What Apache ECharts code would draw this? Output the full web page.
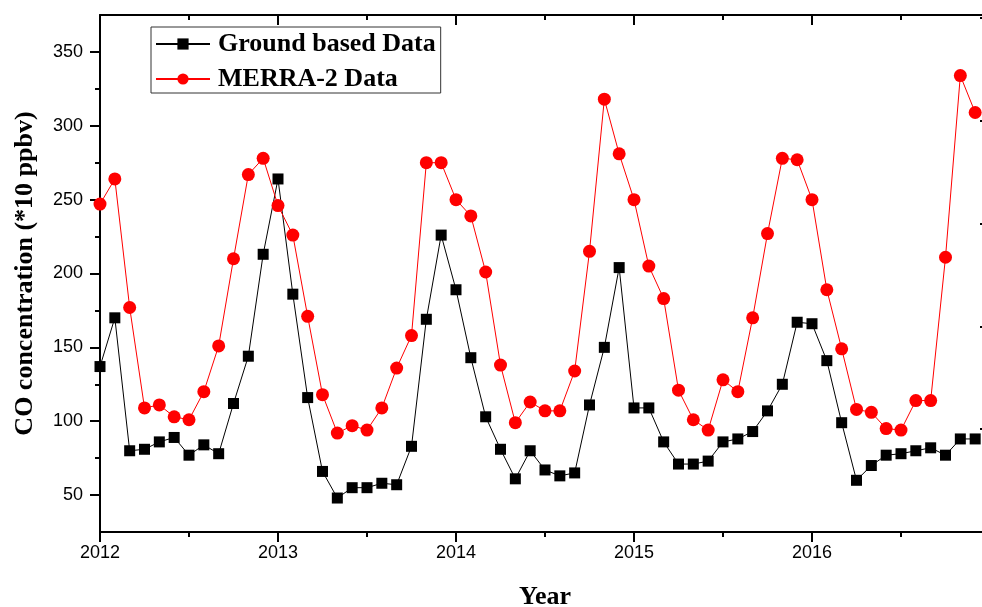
<!DOCTYPE html>
<html>
<head>
<meta charset="utf-8">
<script src="https://cdn.jsdelivr.net/npm/echarts@6/dist/echarts.min.js"></script>
<style>html,body{margin:0;padding:0;background:#fff}#c{width:982px;height:607px}</style>
</head>
<body>
<div id="c"></div>
<script>
// Monthly data, Jan 2012 .. Dec 2016
var startYear = 2012;
var groundData = [137,170,80,81,86,89,77,84,78,112,144,213,
                  264,186,116,66,48,55,55,58,57,83,169,226,
                  189,143,103,81,61,80,67,63,65,111,150,204,
                  109,109,86,71,71,73,86,88,93,107,125,167,
                  166,141,99,60,70,77,78,80,82,77,88,88];
var merraData = [247,264,177,109,111,103,101,120,151,210,267,278,
                 246,226,171,118,92,97,94,109,136,158,275,275,
                 250,239,201,138,99,113,107,107,134,215,318,281,
                 250,205,183,121,101,94,128,120,170,227,278,277,
                 250,189,149,108,106,95,94,114,114,211,334,309];
var yMajorTicks = [50,100,150,200,250,300,350];
var yMinorTicks = [75,125,175,225,275,325];
var seriesNames = ['Ground based Data','MERRA-2 Data'];

function toPairs(arr){ return arr.map(function(v,i){ return [startYear + i/12, v]; }); }

var chart = echarts.init(document.getElementById('c'), null, {renderer:'canvas'});
var axisLine = {show:true, lineStyle:{color:'#000', width:2}};
var option = {
  animation:false,
  backgroundColor:'#fff',
  grid:{left:100, top:15, width:890, height:517, containLabel:false, outerBoundsMode:'none'},
  legend:{
    data:seriesNames, orient:'vertical', left:151, top:27,
    itemWidth:54, itemHeight:14, itemGap:9,
    padding:[4,5,1,4],
    borderColor:'#333', borderWidth:1, backgroundColor:'#fff',
    textStyle:{fontFamily:'Liberation Serif', fontWeight:'bold', fontSize:26, color:'#000', lineHeight:26, padding:[0,0,0,3]}
  },
  xAxis:[{
    type:'value', min:2012, max:2017, interval:1, position:'bottom',
    axisLine:axisLine,
    axisTick:{show:true, inside:false, length:10, lineStyle:{color:'#000', width:2}},
    minorTick:{show:true, splitNumber:2, length:5, lineStyle:{color:'#000', width:2}},
    splitLine:{show:false},
    axisLabel:{fontFamily:'Liberation Sans', fontSize:18, color:'#000', margin:12,
      formatter:function(v){ return v>=2017 ? '' : String(v); }},
    name:'Year', nameLocation:'middle', nameGap:52,
    nameTextStyle:{fontFamily:'Liberation Serif', fontWeight:'bold', fontSize:26, color:'#000'}
  },{
    type:'value', min:2012, max:2017, interval:1, position:'top',
    axisLine:axisLine,
    axisTick:{show:true, inside:true, length:10, lineStyle:{color:'#000', width:2}},
    minorTick:{show:true, splitNumber:2, length:5, lineStyle:{color:'#000', width:2}},
    splitLine:{show:false}, axisLabel:{show:false}
  }],
  yAxis:[{
    type:'value', min:25, max:375, position:'left',
    axisLine:axisLine,
    axisTick:{show:true, inside:false, length:10, customValues:yMajorTicks, lineStyle:{color:'#000', width:2}},
    axisLabel:{fontFamily:'Liberation Sans', fontSize:18, color:'#000', margin:17, customValues:yMajorTicks},
    splitLine:{show:false},
    name:'CO concentration (*10 ppbv)', nameLocation:'middle', nameGap:62, nameRotate:90,
    nameTextStyle:{fontFamily:'Liberation Serif', fontWeight:'bold', fontSize:26, color:'#000'}
  },{
    type:'value', min:25, max:375, position:'left',
    axisLine:{show:false},
    axisTick:{show:true, inside:false, length:5, customValues:yMinorTicks, lineStyle:{color:'#000', width:2}},
    axisLabel:{show:false, customValues:yMinorTicks},
    splitLine:{show:false}
  },{
    type:'value', min:0, max:503, interval:100, position:'right',
    axisLine:{show:true, lineStyle:{color:'#000', width:2}},
    axisTick:{show:true, inside:true, length:10, lineStyle:{color:'#000', width:2}},
    axisLabel:{show:false}, splitLine:{show:false}
  }],
  series:[{
    name:seriesNames[0], type:'line', xAxisIndex:0, yAxisIndex:0,
    data:toPairs(groundData),
    symbol:'rect', symbolSize:11,
    lineStyle:{color:'#000', width:1},
    itemStyle:{color:'#000'},
    z:2
  },{
    name:seriesNames[1], type:'line', xAxisIndex:0, yAxisIndex:0,
    data:toPairs(merraData),
    symbol:'circle', symbolSize:13,
    lineStyle:{color:'#ff0000', width:1},
    itemStyle:{color:'#ff0000'},
    z:3
  }]
};
chart.setOption(option);
</script>
</body>
</html>
